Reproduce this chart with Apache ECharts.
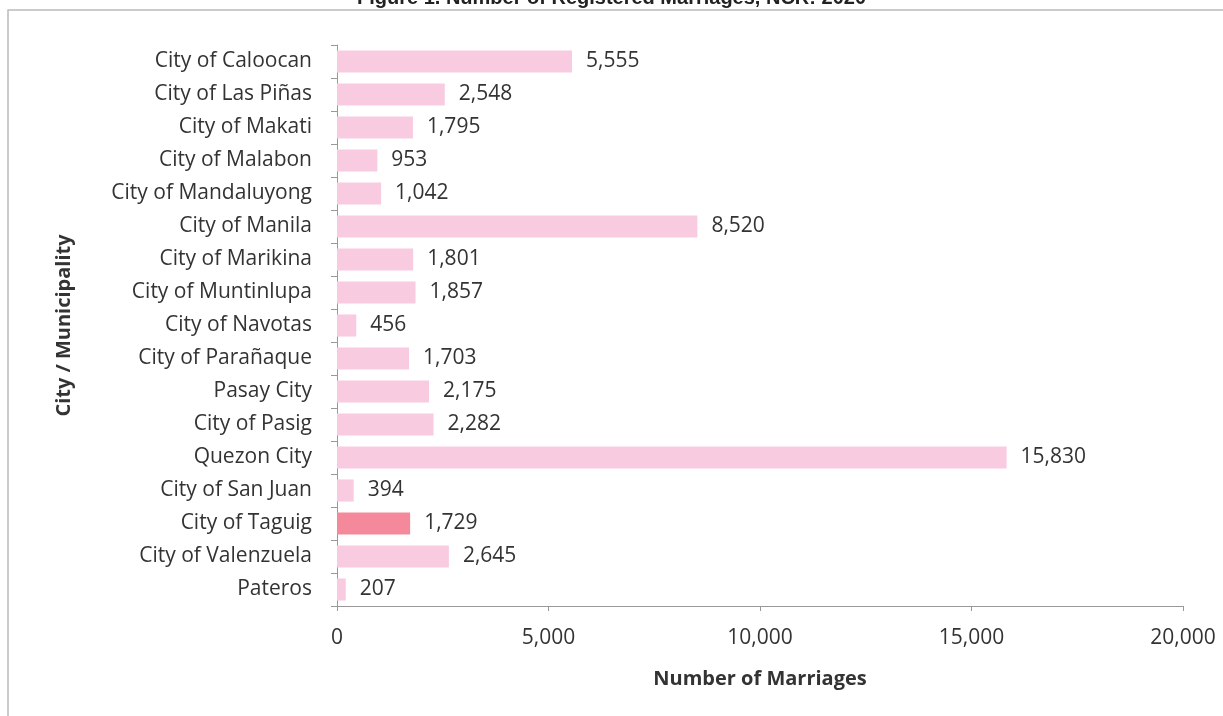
<!DOCTYPE html>
<html>
<head>
<meta charset="utf-8">
<script src="https://cdn.jsdelivr.net/npm/echarts@6/dist/echarts.min.js"></script>
<style>
html,body{margin:0;padding:0;background:#fff;}
#c{width:1223px;height:716px;}
</style>
</head>
<body>
<div id="c"></div>
<script>
const categories = ["City of Caloocan","City of Las Piñas","City of Makati","City of Malabon","City of Mandaluyong","City of Manila","City of Marikina","City of Muntinlupa","City of Navotas","City of Parañaque","Pasay City","City of Pasig","Quezon City","City of San Juan","City of Taguig","City of Valenzuela","Pateros"];
const marriages = [5555,2548,1795,953,1042,8520,1801,1857,456,1703,2175,2282,15830,394,1729,2645,207];
const highlighted = "City of Taguig";
const xTicks = [0,5000,10000,15000,20000];
const titleText = "Figure 1. Number of Registered Marriages, NCR: 2020";

const FONT = "Open Sans";
const FS = 21;
const chart = echarts.init(document.getElementById('c'));
chart.setOption({
  backgroundColor:'#fff',
  animation:false,
  title:{text:titleText,left:'center',top:-17,textStyle:{fontFamily:'Liberation Sans',fontWeight:'bold',fontSize:20,color:'#222'}},
  graphic:[{type:'rect',shape:{x:8,y:10,width:1230,height:720},style:{fill:'none',stroke:'#bbb',lineWidth:1.5},silent:true}],
  grid:{left:337,right:40,top:45,bottom:110,containLabel:false},
  xAxis:{type:'value',min:xTicks[0],max:xTicks[xTicks.length-1],interval:xTicks[1]-xTicks[0],
    name:'Number of Marriages',nameLocation:'middle',nameGap:63,
    nameTextStyle:{fontFamily:FONT,fontWeight:'bold',fontSize:20,color:'#333'},
    axisLine:{show:true,lineStyle:{color:'#999'}},
    axisTick:{show:true,length:5,lineStyle:{color:'#999'}},
    splitLine:{show:false},
    axisLabel:{fontFamily:FONT,fontSize:FS,color:'#333',margin:22,
      formatter:v=>v.toLocaleString('en-US')}},
  yAxis:{type:'category',data:categories,inverse:true,
    name:'City / Municipality',nameLocation:'middle',nameGap:263,nameRotate:90,
    nameTextStyle:{fontFamily:FONT,fontWeight:'bold',fontSize:20,color:'#333'},
    axisLine:{show:true,lineStyle:{color:'#999'}},
    axisTick:{show:true,length:6,lineStyle:{color:'#999'}},
    axisLabel:{fontFamily:FONT,fontSize:FS,color:'#333',margin:25}},
  series:[{type:'bar',barCategoryGap:'33%',
    data:marriages.map((v,i)=>({value:v,itemStyle:{color:categories[i]===highlighted?'#F3899A':'#F9CBE1'}})),
    label:{show:true,position:'right',distance:14,fontFamily:FONT,fontSize:FS,color:'#333',
      formatter:p=>p.value.toLocaleString('en-US')}}]
});
</script>
</body>
</html>
